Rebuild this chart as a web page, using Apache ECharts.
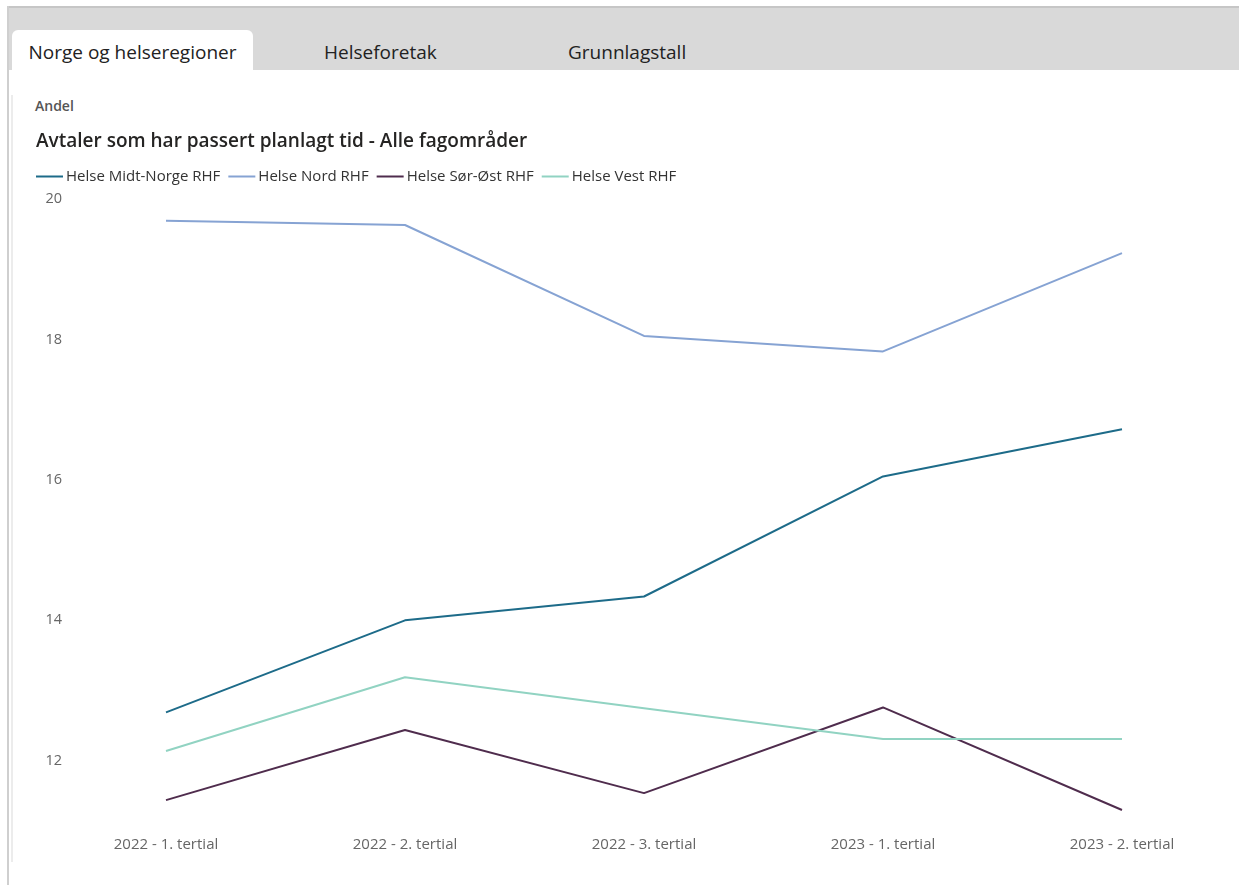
<!DOCTYPE html>
<html>
<head>
<meta charset="utf-8">
<script src="https://cdn.jsdelivr.net/npm/echarts@6/dist/echarts.min.js"></script>
<style>
  html, body { margin:0; padding:0; width:1239px; height:885px; background:#fff; overflow:hidden; font-family:"Open Sans", "Noto Sans", sans-serif; }
  #topline { position:absolute; left:7px; top:6px; width:1232px; height:2px; background:#c6c6c6; }
  #tabbar { position:absolute; left:9px; top:8px; width:1230px; height:62px; background:#d9d9d9; }
  #leftborder { position:absolute; left:7px; top:6px; width:2px; height:879px; background:#cfcfcf; }
  #innerline { position:absolute; left:11px; top:95px; width:2px; height:767px; background:#ececec; }
  .tab { position:absolute; top:30px; height:40px; line-height:44px; font-size:19px; color:#222; white-space:nowrap; }
  #tab1 { left:12px; width:241px; background:#fff; border-radius:6px 6px 0 0; text-align:center; }
  #tab2 { left:324px; }
  #tab3 { left:568px; }
  #andel { position:absolute; left:35px; top:96px; font-size:14px; font-weight:600; color:#555; }
  #chart { position:absolute; left:0; top:0; width:1239px; height:885px; }
</style>
</head>
<body>
<div id="tabbar"></div>
<div id="topline"></div>
<div id="leftborder"></div>
<div id="innerline"></div>
<div class="tab" id="tab1">Norge og helseregioner</div>
<div class="tab" id="tab2">Helseforetak</div>
<div class="tab" id="tab3">Grunnlagstall</div>
<div id="andel">Andel</div>
<div id="chart"></div>
<script>
const categories = ["2022 - 1. tertial", "2022 - 2. tertial", "2022 - 3. tertial", "2023 - 1. tertial", "2023 - 2. tertial"];
const seriesNames = ["Helse Midt-Norge RHF", "Helse Nord RHF", "Helse Sør-Øst RHF", "Helse Vest RHF"];
const midtNorge = [12.69, 14.00, 14.34, 16.05, 16.72];
const nord = [19.69, 19.63, 18.05, 17.83, 19.23];
const sorOst = [11.44, 12.44, 11.54, 12.76, 11.30];
const vest = [12.14, 13.19, 12.75, 12.31, 12.31];
const colors = ["#1d6b89", "#86a3d3", "#4f2c4d", "#91d3c2"];
const yTickLabels = [12, 14, 16, 18, 20];

const chart = echarts.init(document.getElementById('chart'));
const seriesData = [midtNorge, nord, sorOst, vest];
chart.setOption({
  animation: false,
  textStyle: { fontFamily: '"Open Sans", "Noto Sans", sans-serif' },
  title: {
    text: "Avtaler som har passert planlagt tid - Alle fagområder",
    left: 31, top: 127,
    textStyle: { fontSize: 19, fontWeight: 600, color: '#252423' }
  },
  legend: {
    left: 36, top: 169, padding: 0,
    itemWidth: 27, itemHeight: 2, itemGap: 8,
    icon: 'rect',
    textStyle: { fontSize: 15, color: '#333', padding: [0, 0, 0, -2] },
    data: seriesNames
  },
  grid: { left: 166, right: 117, top: 199, bottom: 68, containLabel: false },
  xAxis: {
    type: 'category',
    data: categories,
    boundaryGap: false,
    axisLine: { show: false },
    axisTick: { show: false },
    axisLabel: { color: '#666', fontSize: 15, margin: 20 }
  },
  yAxis: {
    type: 'value',
    min: 11.2, max: 20, interval: 0.4,
    axisLine: { show: false },
    axisTick: { show: false },
    splitLine: { show: false },
    axisLabel: {
      color: '#666', fontSize: 14.5, margin: 104,
      showMinLabel: true, showMaxLabel: true,
      formatter: function (v) {
        const r = Math.round(v);
        return (Math.abs(v - r) < 1e-6 && yTickLabels.indexOf(r) >= 0) ? String(r) : '';
      }
    }
  },
  series: seriesNames.map(function (n, i) {
    return {
      name: n, type: 'line', data: seriesData[i],
      symbol: 'none', color: colors[i],
      lineStyle: { width: 2, color: colors[i] }
    };
  })
});
</script>
</body>
</html>
